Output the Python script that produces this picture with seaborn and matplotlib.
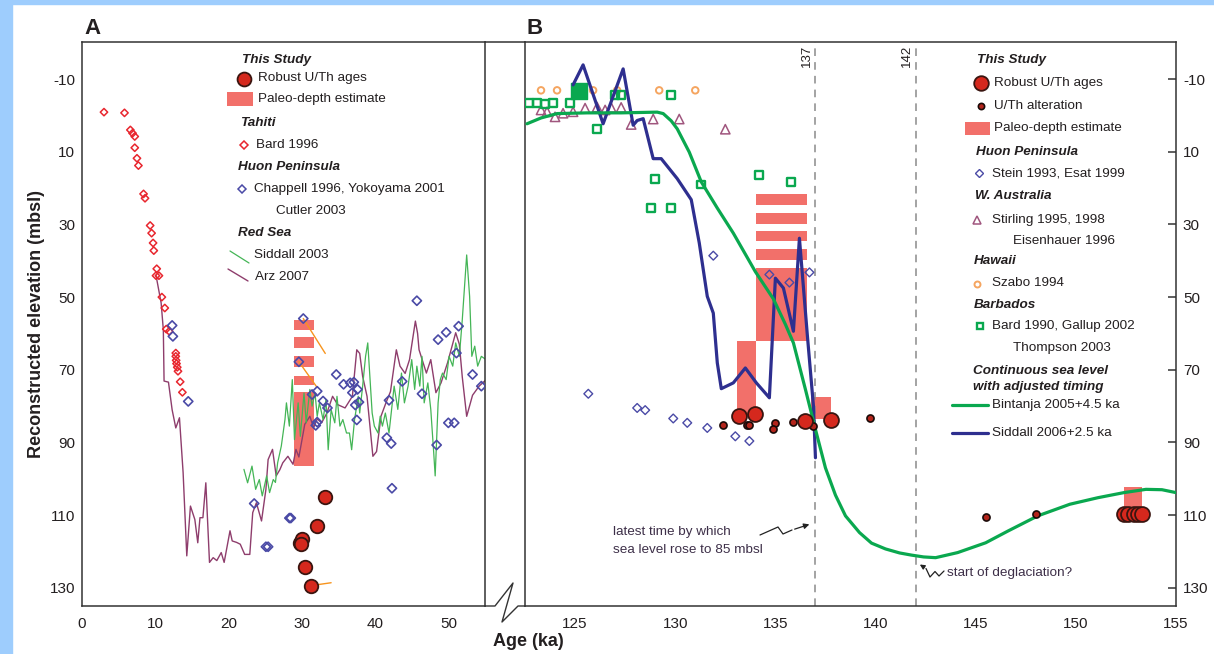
import numpy as np
import pandas as pd
import matplotlib
matplotlib.use("Agg")
import matplotlib.pyplot as plt
import seaborn as sns
from matplotlib.lines import Line2D
from matplotlib.patches import Rectangle, FancyArrowPatch

# ---------------- Panel A data ----------------
tahiti_age = [3.0, 5.8, 6.6, 6.9, 7.2, 7.2, 7.5, 7.7, 8.4, 8.6, 9.3, 9.5, 9.7, 9.8, 10.2, 10.1, 10.5,
              10.9, 11.3, 11.5, 11.9, 12.8, 12.8, 12.85, 12.9, 13.0, 13.1, 13.4, 13.7]
tahiti_elev = [-0.9, -0.7, 4.0, 4.9, 5.8, 8.9, 11.8, 13.8, 21.6, 22.8, 30.3, 32.4, 35.1, 37.2, 42.2, 44.1, 44.1,
               50.0, 53.0, 58.8, 59.4, 65.4, 66.3, 67.4, 68.3, 69.3, 70.4, 73.3, 76.2]

huonA_age = [12.3, 12.4, 14.5, 23.5, 25.1, 25.4, 28.3, 28.5, 29.6, 30.2, 31.4, 31.9, 32.1, 32.1, 32.9, 33.5,
             34.7, 35.7, 36.6, 36.9, 37.1, 37.3, 37.5, 37.6, 37.8, 41.6, 41.9, 42.2, 42.3, 43.7, 45.7, 46.4,
             48.4, 48.6, 49.7, 50.0, 50.8, 51.1, 51.4, 53.3, 54.5]
huonA_elev = [57.8, 60.8, 78.7, 106.8, 118.7, 118.7, 110.8, 110.8, 67.8, 55.9, 76.8, 85.3, 75.9, 84.4, 78.6, 80.5,
              71.3, 74.0, 73.6, 76.3, 73.4, 79.7, 83.8, 75.4, 78.9, 88.7, 78.4, 90.3, 102.6, 73.2, 51.0, 76.6,
              90.7, 61.7, 59.7, 84.6, 84.6, 65.4, 58.0, 71.3, 74.5]

robustA_age = [33.1, 32.1, 29.8, 30.0, 29.9, 30.4, 31.2]
robustA_elev = [104.9, 113.0, 117.6, 116.6, 117.9, 124.2, 129.4]

tieA_age0 = [30.2, 29.6, 31.2]
tieA_elev0 = [55.9, 67.8, 129.4]
tieA_age1 = [33.2, 32.1, 34.0]
tieA_elev1 = [65.5, 74.9, 128.6]

paleoA_age = [28.9, 31.6]
paleoA_top = [56.4, 61.0, 66.3, 71.6, 76.2]
paleoA_bot = [59.1, 63.9, 69.2, 74.3, 96.5]

arz_age = [10.1, 10.8, 11.1, 11.2, 11.8, 12.3, 12.8, 13.3, 13.8, 14.3, 14.8, 15.4, 15.8, 16.1, 16.5, 16.9,
           17.4, 17.9, 18.4, 19.0, 19.4, 20.2, 20.5, 21.1, 21.6, 22.2, 22.9, 23.3, 23.8, 24.5, 25.1, 25.4,
           26.0, 26.5, 27.0, 27.4, 28.1, 28.8, 29.2, 29.6, 30.4, 31.1, 31.6, 32.1, 32.7, 33.4, 34.2, 34.9,
           35.9, 36.9, 37.5, 37.9, 38.3, 38.9, 39.7, 40.2, 40.8, 41.5, 42.1, 42.9, 43.4, 44.1, 44.7, 45.5,
           45.8, 46.0, 47.0, 47.6, 48.3, 49.0, 49.9, 51.0, 51.5, 51.9, 52.5, 53.3, 54.2, 55.0]
arz_elev = [44, 51.6, 59, 73.1, 73.4, 81, 86, 83.2, 98.3, 121.2, 107.5, 111.2, 117.6, 110.7, 110.7, 101.1,
            123, 121.7, 122.5, 120.3, 123, 114.3, 117.1, 117.5, 118, 120.8, 120.8, 109.3, 106.6, 111.6, 102.9, 94.7,
            91.9, 99.2, 97.5, 95.6, 93.8, 96, 91.9, 94, 85, 82.8, 86, 83.5, 84.6, 82, 77.3, 79.6,
            80.5, 77.3, 64.5, 65.5, 71.8, 77.3, 93.8, 92.5, 82.8, 79, 76, 64.5, 69, 71, 67.2, 56.6,
            60, 64.5, 70.9, 67.2, 76.3, 73.6, 68, 59.8, 63, 72, 82.8, 77, 74.5, 73]

siddall03_age = [22.1, 22.6, 23.2, 23.7, 24.2, 24.6, 25.2, 25.6, 26.1, 26.4, 26.7, 27.2, 27.7, 27.9, 28.3, 28.7,
                 29.0, 29.5, 29.8, 30.3, 30.6, 31.1, 31.4, 31.8, 32.1, 32.4, 32.9, 33.3, 33.6, 34.0, 34.5, 34.8,
                 35.2, 35.6, 36.1, 36.5, 36.8, 37.2, 37.7, 37.9, 38.3, 38.7, 39.0, 39.2, 39.6, 39.9, 40.4, 40.7,
                 41.0, 41.4, 41.9, 42.2, 42.6, 43.1, 43.6, 44.0, 44.5, 45.0, 45.4, 45.7, 46.1, 46.4, 46.7, 47.2,
                 47.6, 48.0, 48.2, 48.6, 48.9, 49.2, 49.7, 50.1, 50.6, 51.0, 51.5, 51.9, 52.5, 52.9, 53.2, 53.6,
                 54.0, 54.5, 55.0]
siddall03_elev = [97.4, 101.1, 96.5, 102.9, 100.2, 104.7, 99.2, 103.8, 100.2, 101.0, 95.6, 91.0, 83.7, 79.1, 85.5, 72.7,
                  89.2, 79.1, 88.3, 76.4, 84.6, 75.4, 80.0, 76.4, 82.8, 79.1, 83.7, 78.2, 92.0, 81.0, 84.6, 77.3,
                  85.5, 83.7, 87.4, 87.4, 92.0, 83.7, 77.3, 81.9, 74.5, 66.3, 62.6, 69.0, 81.9, 85.5, 87.4, 82.8,
                  85.5, 81.9, 87.4, 81.9, 74.5, 80.9, 70.9, 79.1, 74.5, 67.2, 75.4, 69.0, 74.5, 66.3, 79.1, 73.6,
                  80.9, 92.8, 99.2, 79.1, 72.7, 70.9, 72.7, 66.3, 69.0, 62.6, 66.3, 56.2, 38.4, 49.8, 66.3, 63.5,
                  69.0, 66.3, 67.0]

# ---------------- Panel B data ----------------
bintanja_age = [122.6, 123.3, 124.1, 125.6, 127.3, 129.1, 129.4, 129.8, 130.1, 130.7, 131.3, 132.1, 132.9, 134.0,
                134.9, 135.5, 135.9, 136.5, 137.0, 137.5, 138.0, 138.5, 139.2, 139.8, 140.5, 141.2, 141.8, 142.4,
                143.0, 144.1, 145.5, 146.6, 148.1, 149.7, 151.1, 152.4, 153.5, 154.3, 155.0]
bintanja_elev = [2.3, 0.7, -0.5, -0.7, -0.7, -0.9, -0.5, 1.5, 3.7, 10.1, 18.3, 25.5, 32.4, 43.0,
                 50.5, 57.5, 62.6, 75.4, 86.4, 97.0, 104.5, 110.2, 114.8, 117.7, 119.3, 120.4, 121.0, 121.5,
                 121.7, 120.3, 117.6, 114.4, 110.2, 107.0, 105.2, 103.8, 102.9, 103.0, 103.8]

siddall06_age = [124.9, 125.4, 126.4, 127.4, 127.9, 128.1, 128.4, 128.9, 129.3, 130.1, 130.8, 131.2, 131.6, 131.9,
                 132.1, 132.3, 132.9, 133.5, 134.05, 134.7, 135.0, 135.4, 135.9, 136.2, 136.6, 136.9, 137.0]
siddall06_elev = [-8.4, -13.9, 2.3, -12.8, 2.7, 1.4, 0.9, 11.9, 11.9, 17.4, 23.2, 35.1, 49.8, 54.4,
                  68.1, 75.2, 73.6, 69.5, 73.6, 77.7, 44.8, 47.5, 59.4, 33.8, 60.8, 80.0, 94.2]

szabo_age = [123.3, 124.1, 125.9, 127.1, 129.2, 131.0]
szabo_elev = [-6.9, -6.9, -6.9, -6.9, -6.9, -6.9]

barbados_age = [122.7, 123.1, 123.5, 123.9, 124.75, 127.0, 127.3, 129.8, 126.1, 129.0, 128.8, 129.8, 131.3,
                134.2, 135.8]
barbados_elev = [-3.5, -3.4, -3.2, -3.5, -3.5, -5.7, -5.7, -5.5, 3.8, 17.4, 25.4, 25.4, 19.0, 16.4, 18.4]
barbados_fill_age = [125.2]
barbados_fill_elev = [-6.6]

waus_age = [123.3, 123.6, 124.0, 124.4, 124.9, 125.5, 126.1, 126.5, 126.8, 127.3, 127.8, 128.9, 130.2, 132.5]
waus_elev = [-1.5, -1.0, 0.4, -0.6, -1.0, -2.0, -2.3, -1.5, -2.2, -2.2, 2.5, 1.0, 1.0, 3.8]

huonB_age = [125.66, 128.1, 128.5, 129.9, 130.6, 131.6, 133.0, 133.7, 131.9, 134.7, 135.7, 136.7]
huonB_elev = [76.6, 80.5, 81.1, 83.4, 84.6, 86.0, 88.3, 89.6, 38.6, 43.8, 46.0, 43.2]

robustB_age = [133.2, 134.0, 136.5, 137.8, 152.4, 152.6, 152.9, 153.1, 153.3]
robustB_elev = [82.6, 82.3, 84.1, 83.7, 109.6, 109.6, 109.6, 109.6, 109.6]

alter_age = [132.4, 133.6, 133.7, 134.96, 134.9, 135.9, 136.9, 139.7, 145.5, 148.0]
alter_elev = [85.1, 85.1, 85.1, 84.6, 86.4, 84.4, 85.5, 83.2, 110.4, 109.6]

paleoB_left = [133.06, 134.02, 134.02, 134.02, 134.02, 134.02, 136.8, 152.4]
paleoB_right = [134.05, 136.56, 136.56, 136.56, 136.56, 136.56, 137.8, 153.3]
paleoB_top = [62.0, 42.0, 21.7, 26.9, 31.7, 36.8, 77.4, 102.2]
paleoB_bot = [82.5, 62.2, 24.6, 29.8, 34.5, 39.7, 83.5, 110.2]

marker_ages = [137, 142]
ytick_vals = [-10, 10, 30, 50, 70, 90, 110, 130]
ytick_labels = ["-10", "10", "30", "50", "70", "90", "110", "130"]
xtickA = [0, 10, 20, 30, 40, 50]
xtickB = [125, 130, 135, 140, 145, 150, 155]

# ---------------- style ----------------
sns.set_style("white")
plt.rcParams["font.family"] = ["Liberation Sans", "DejaVu Sans"]
TXT = "#231f20"
SALMON = "#f2706a"
RED = "#d5281d"
DARK = "#3a1510"
GREEN = "#0aa84f"
NAVY = "#2e2f8f"
HUON = "#4a4aa6"
TAH = "#e8262e"
SID03 = "#44b556"
ARZ = "#8e3d6c"
TRI = "#a0567e"
ORANGE = "#f5a560"
TIE = "#f7941d"

W, H = 1214, 654
fig = plt.figure(figsize=(W / 100, H / 100), dpi=100)
fig.patch.set_facecolor("white")
BLUE = "#9ecdfd"
fig.add_artist(Rectangle((0, 0), 12 / W, 1, transform=fig.transFigure, color=BLUE, zorder=0))
fig.add_artist(Rectangle((0, 1 - 4 / H), 1, 4 / H, transform=fig.transFigure, color=BLUE, zorder=0))

bot = 1 - 606 / H
hgt = (606 - 42) / H
axA = fig.add_axes([82 / W, bot, (485 - 82) / W, hgt])
axB = fig.add_axes([525 / W, bot, (1176 - 525) / W, hgt])

for ax in (axA, axB):
    ax.set_facecolor("white")
    for s in ax.spines.values():
        s.set_visible(True)
        s.set_color("#333333")
        s.set_linewidth(1.1)
    ax.set_ylim(135, -20.2)
    ax.tick_params(direction="in", length=6, width=1.1, color="#333333",
                   labelsize=11, labelcolor=TXT, pad=5)

axA.set_xlim(0, 55)
axB.set_xlim(122.5, 155)

# ---- Panel A ----
for t, b in zip(paleoA_top, paleoA_bot):
    axA.bar(paleoA_age[0], b - t, width=paleoA_age[1] - paleoA_age[0], bottom=t, align="edge",
            color=SALMON, linewidth=0, zorder=1)
sns.lineplot(x=arz_age, y=arz_elev, ax=axA, sort=False, estimator=None, color=ARZ, linewidth=1.0, zorder=2)
sns.lineplot(x=siddall03_age, y=siddall03_elev, ax=axA, sort=False, estimator=None, color=SID03,
             linewidth=0.9, zorder=2)
for a0, e0, a1, e1 in zip(tieA_age0, tieA_elev0, tieA_age1, tieA_elev1):
    axA.plot([a0, a1], [e0, e1], color=TIE, linewidth=1.0, zorder=3)
sns.scatterplot(x=tahiti_age, y=tahiti_elev, ax=axA, marker="D", s=14, facecolor="none",
                edgecolor=TAH, linewidth=1.1, zorder=4)
sns.scatterplot(x=huonA_age, y=huonA_elev, ax=axA, marker="D", s=22, facecolor="none",
                edgecolor=HUON, linewidth=1.2, zorder=4)
sns.scatterplot(x=robustA_age, y=robustA_elev, ax=axA, marker="o", s=95, color=RED,
                edgecolor=DARK, linewidth=1.3, zorder=5)

axA.set_xticks(xtickA)
axA.set_xticklabels([str(v) for v in xtickA])
axA.set_yticks(ytick_vals)
axA.set_yticklabels(ytick_labels)
axA.tick_params(axis="x", pad=8)
axA.set_ylabel("Reconstructed elevation (mbsl)", fontsize=13, fontweight="bold", color=TXT, labelpad=3.5)
axA.set_xlabel("")

# ---- Panel B ----
for l, r, t, b in zip(paleoB_left, paleoB_right, paleoB_top, paleoB_bot):
    axB.bar(l, b - t, width=r - l, bottom=t, align="edge", color=SALMON, linewidth=0, zorder=1)
for m in marker_ages:
    axB.axvline(m, color="#8a8a8a", linewidth=1.1, linestyle=(0, (5, 4)), zorder=1.5)
    axB.text(m - 0.12, -16.5, str(m), rotation=90, ha="right", va="center", fontsize=9.5, color=TXT)
sns.scatterplot(x=huonB_age, y=huonB_elev, ax=axB, marker="D", s=20, facecolor="none",
                edgecolor=HUON, linewidth=1.0, zorder=3)
sns.scatterplot(x=waus_age, y=waus_elev, ax=axB, marker="^", s=45, facecolor="none",
                edgecolor=TRI, linewidth=1.1, zorder=3)
sns.scatterplot(x=szabo_age, y=szabo_elev, ax=axB, marker="o", s=22, facecolor="none",
                edgecolor=ORANGE, linewidth=1.4, zorder=3)
sns.scatterplot(x=barbados_age, y=barbados_elev, ax=axB, marker="s", s=32, facecolor="none",
                edgecolor=GREEN, linewidth=1.7, zorder=3)
sns.scatterplot(x=barbados_fill_age, y=barbados_fill_elev, ax=axB, marker="s", s=120, color=GREEN,
                edgecolor=GREEN, linewidth=1, zorder=3)
sns.lineplot(x=siddall06_age, y=siddall06_elev, ax=axB, sort=False, estimator=None, color=NAVY,
             linewidth=2.3, zorder=4)
sns.lineplot(x=bintanja_age, y=bintanja_elev, ax=axB, sort=False, estimator=None, color=GREEN,
             linewidth=2.3, zorder=4)
sns.scatterplot(x=alter_age, y=alter_elev, ax=axB, marker="o", s=26, color="#b3241b",
                edgecolor="#1a0a08", linewidth=1.2, zorder=5)
sns.scatterplot(x=robustB_age, y=robustB_elev, ax=axB, marker="o", s=115, color=RED,
                edgecolor=DARK, linewidth=1.3, zorder=5)

axB.set_xticks(xtickB)
axB.set_xticklabels([str(v) for v in xtickB])
axB.set_yticks(ytick_vals)
axB.set_yticklabels(ytick_labels)
axB.yaxis.tick_right()
axB.tick_params(axis="y", left=False, right=True, labelleft=False, labelright=True, pad=5)
axB.tick_params(axis="x", pad=8)
axB.set_ylabel("")
axB.set_xlabel("")

# ---------------- figure-level helpers (pixel coords) ----------------
def P(x, y):
    return x / W, 1 - y / H

def ftext(x, y, s, **kw):
    kw.setdefault("fontsize", 9.7)
    kw.setdefault("color", TXT)
    kw.setdefault("va", "center")
    kw.setdefault("ha", "left")
    fig.text(*P(x, y), s, **kw)

def fline(xs, ys, **kw):
    fx = [x / W for x in xs]
    fy = [1 - y / H for y in ys]
    fig.add_artist(Line2D(fx, fy, transform=fig.transFigure, **kw))

def fmark(x, y, **kw):
    fig.add_artist(Line2D([x / W], [1 - y / H], transform=fig.transFigure, linestyle="none", **kw))

def frect(x0, y0, x1, y1, color):
    fig.add_artist(Rectangle((x0 / W, 1 - y1 / H), (x1 - x0) / W, (y1 - y0) / H,
                             transform=fig.transFigure, color=color, linewidth=0))

HB = dict(fontweight="bold", fontstyle="italic")

# panel labels
ftext(84, 28, "A", fontsize=16, fontweight="bold")
ftext(527, 28, "B", fontsize=16, fontweight="bold")
ftext(493, 641, "Age (ka)", fontsize=13, fontweight="bold")

# connection between panels + axis break
fline([485, 525], [42, 42], color="#333333", linewidth=1.1)
fline([485, 495, 513, 502, 518, 525], [606, 606, 583, 622, 606, 606], color="#333333", linewidth=1.0)

# Legend A
ftext(242, 60, "This Study", **HB)
fmark(243.5, 78.5, marker="o", markersize=10, markerfacecolor=RED, markeredgecolor=DARK, markeredgewidth=1.3)
ftext(257.5, 78.5, "Robust U/Th ages")
frect(227.5, 92.5, 253, 106, SALMON)
ftext(257.5, 99, "Paleo-depth estimate")
ftext(240.5, 123, "Tahiti", **HB)
fmark(243.5, 145, marker="D", markersize=4.2, markerfacecolor="none", markeredgecolor=TAH, markeredgewidth=1.1)
ftext(255.5, 145, "Bard 1996")
ftext(238.5, 167, "Huon Peninsula", **HB)
fmark(241.5, 189, marker="D", markersize=4.5, markerfacecolor="none", markeredgecolor=HUON, markeredgewidth=1.1)
ftext(254, 189, "Chappell 1996, Yokoyama 2001")
ftext(275.5, 211, "Cutler 2003")
ftext(238.5, 233, "Red Sea", **HB)
fline([230, 249], [251, 263], color=SID03, linewidth=0.9)
ftext(254, 255, "Siddall 2003")
fline([228, 248], [269, 281], color=ARZ, linewidth=1.0)
ftext(255, 277, "Arz 2007")

# Legend B
ftext(977, 60.5, "This Study", **HB)
fmark(981, 83, marker="o", markersize=10.5, markerfacecolor=RED, markeredgecolor=DARK, markeredgewidth=1.3)
ftext(994, 83, "Robust U/Th ages")
fmark(981, 106, marker="o", markersize=4.5, markerfacecolor="#b3241b", markeredgecolor="#1a0a08",
      markeredgewidth=1.2)
ftext(994, 106, "U/Th alteration")
frect(965, 121.5, 990, 134.5, SALMON)
ftext(994, 128, "Paleo-depth estimate")
ftext(976, 152, "Huon Peninsula", **HB)
fmark(978.5, 173, marker="D", markersize=4.2, markerfacecolor="none", markeredgecolor=HUON, markeredgewidth=1.0)
ftext(992, 173, "Stein 1993, Esat 1999")
ftext(975, 195.5, "W. Australia", **HB)
fmark(976.5, 219.5, marker="^", markersize=6, markerfacecolor="none", markeredgecolor=TRI, markeredgewidth=1.1)
ftext(992, 219.5, "Stirling 1995, 1998")
ftext(1013, 241, "Eisenhauer 1996")
ftext(974, 261, "Hawaii", **HB)
fmark(976.5, 283.5, marker="o", markersize=4.3, markerfacecolor="none", markeredgecolor=ORANGE, markeredgewidth=1.4)
ftext(992, 283.5, "Szabo 1994")
ftext(973.5, 305.5, "Barbados", **HB)
fmark(979.5, 326, marker="s", markersize=5, markerfacecolor="none", markeredgecolor=GREEN, markeredgewidth=1.7)
ftext(992, 326, "Bard 1990, Gallup 2002")
ftext(1013, 348.5, "Thompson 2003")
ftext(973, 371, "Continuous sea level", **HB)
ftext(973, 387, "with adjusted timing", **HB)
fline([952, 988], [405, 405], color=GREEN, linewidth=2.3)
ftext(992, 405, "Bintanja 2005+4.5 ka")
fline([952, 988], [432.5, 432.5], color=NAVY, linewidth=2.3)
ftext(992, 432.5, "Siddall 2006+2.5 ka")

# annotations in panel B
ANN = "#3d2f48"
ftext(613, 532, "latest time by which", color=ANN)
ftext(613, 550, "sea level rose to 85 mbsl", color=ANN)
fline([760, 778, 783, 792], [535, 527, 534, 530], color="#222222", linewidth=0.9)
fig.add_artist(FancyArrowPatch(P(792, 530), P(812, 523.5), transform=fig.transFigure,
                               arrowstyle="-|>", mutation_scale=8, color="#222222", linewidth=0.9))
ftext(947, 573, "start of deglaciation?", color=ANN)
fline([944, 939, 935, 930, 926], [571, 576, 571.5, 577, 568.5], color="#222222", linewidth=0.9)
fig.add_artist(FancyArrowPatch(P(926, 568.5), P(917.5, 563), transform=fig.transFigure,
                               arrowstyle="-|>", mutation_scale=7, color="#222222", linewidth=0.9))

fig.savefig("out.png", dpi=100, facecolor=fig.get_facecolor())
